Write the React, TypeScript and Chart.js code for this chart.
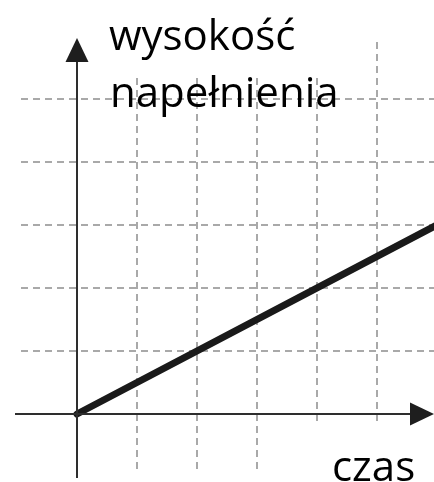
import React, { useEffect, useRef } from "react";
import { Chart, registerables } from "chart.js";

Chart.register(...registerables);

// Data
const times = [0, 6];
const heights = [0, 3];
const gridX = [1, 2, 3, 4, 5];
const gridY = [1, 2, 3, 4, 5];
const yLabelLines = ["wysokość", "napełnienia"];
const xLabel = "czas";

const W = 434;
const H = 482;

const decorPlugin = {
  id: "decor",
  beforeDatasetsDraw(chart: any) {
    const ctx = chart.ctx;
    ctx.save();
    ctx.fillStyle = "#ffffff";
    // white backgrounds behind labels
    ctx.fillRect(95, 0, 250, 77);
    ctx.fillRect(305, 426, 129, 56);
    ctx.restore();
  },
  afterDatasetsDraw(chart: any) {
    const ctx = chart.ctx;
    const xs = chart.scales.x;
    const ys = chart.scales.y;
    const x0 = xs.getPixelForValue(0);
    const y0 = ys.getPixelForValue(0);
    ctx.save();
    ctx.strokeStyle = "#2e2e2e";
    ctx.fillStyle = "#1e1e1e";
    ctx.lineWidth = 2;
    // y axis
    ctx.beginPath();
    ctx.moveTo(x0, 478);
    ctx.lineTo(x0, 56);
    ctx.stroke();
    ctx.beginPath();
    ctx.moveTo(x0, 38);
    ctx.lineTo(x0 - 11.5, 62);
    ctx.lineTo(x0 + 11.5, 62);
    ctx.closePath();
    ctx.fill();
    // x axis
    ctx.beginPath();
    ctx.moveTo(15, y0);
    ctx.lineTo(415, y0);
    ctx.stroke();
    ctx.beginPath();
    ctx.moveTo(434, y0);
    ctx.lineTo(410, y0 - 11.5);
    ctx.lineTo(410, y0 + 11.5);
    ctx.closePath();
    ctx.fill();
    ctx.restore();
  },
  afterDraw(chart: any) {
    const ctx = chart.ctx;
    ctx.save();
    ctx.fillStyle = "#000000";
    ctx.font = '42px "Open Sans"';
    ctx.textBaseline = "alphabetic";
    ctx.textAlign = "left";
    ctx.fillText(yLabelLines[0], 109, 50);
    ctx.fillText(yLabelLines[1], 110, 107);
    ctx.fillText(xLabel, 332, 481);
    ctx.restore();
  },
};

export default function App() {
  const ref = useRef<HTMLCanvasElement | null>(null);

  useEffect(() => {
    if (!ref.current) return;
    const chart = new Chart(ref.current, {
      type: "line",
      data: {
        datasets: [
          {
            data: times.map((t, i) => ({ x: t, y: heights[i] })),
            borderColor: "#1a1a1a",
            borderWidth: 7,
            borderCapStyle: "round",
            pointRadius: 0,
            fill: false,
            tension: 0,
          },
        ],
      },
      options: {
        animation: false,
        responsive: false,
        events: [],
        layout: {
          autoPadding: false,
          padding: { left: 21, top: 42, right: 0, bottom: 10 },
        },
        plugins: {
          legend: { display: false },
          tooltip: { enabled: false },
          title: { display: false },
        },
        scales: {
          x: {
            type: "linear",
            min: -56 / 60,
            max: 357 / 60,
            border: { display: false, dash: [7, 5] },
            ticks: { display: false },
            grid: { color: "#a9a9a9", lineWidth: 2, drawTicks: false },
            afterBuildTicks: (s: any) => {
              s.ticks = gridX.map((v) => ({ value: v }));
            },
          },
          y: {
            type: "linear",
            min: -58 / 63,
            max: 372 / 63,
            border: { display: false, dash: [7, 5] },
            ticks: { display: false },
            grid: { color: "#a9a9a9", lineWidth: 2, drawTicks: false },
            afterBuildTicks: (s: any) => {
              s.ticks = gridY.map((v) => ({ value: v }));
            },
          },
        },
      } as any,
      plugins: [decorPlugin],
    });
    return () => chart.destroy();
  }, []);

  return (
    <div
      style={{
        position: "fixed",
        left: 0,
        top: 0,
        width: W,
        height: H,
        background: "#ffffff",
      }}
    >
      <canvas ref={ref} width={W} height={H} style={{ display: "block" }} />
    </div>
  );
}
